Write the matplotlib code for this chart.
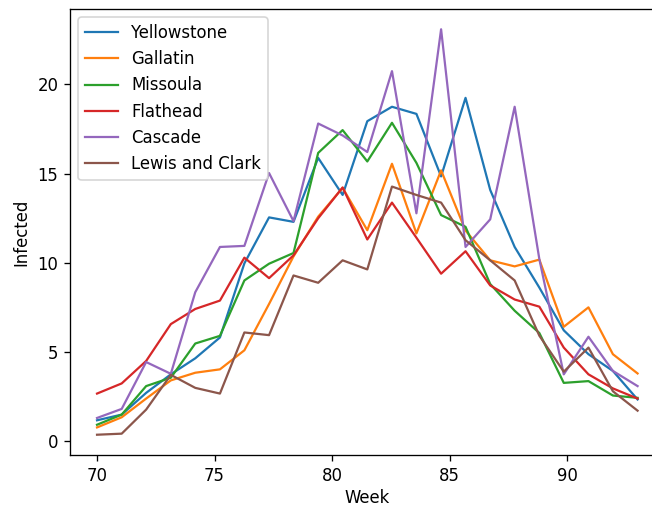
import matplotlib
matplotlib.use("Agg")
import matplotlib.pyplot as plt

weeks = [70.0, 71.05, 72.09, 73.14, 74.18, 75.23, 76.27, 77.32, 78.36, 79.41, 80.45, 81.5,
         82.55, 83.59, 84.64, 85.68, 86.73, 87.77, 88.82, 89.86, 90.91, 91.95, 93.0]

yellowstone = [1.15, 1.47, 2.69, 3.73, 4.63, 5.8, 9.96, 12.54, 12.29, 15.88, 13.8, 17.94,
               18.75, 18.35, 14.84, 19.25, 14.08, 10.88, 8.6, 6.2, 4.86, 3.92, 2.32]
gallatin = [0.75, 1.32, 2.37, 3.39, 3.82, 4.01, 5.08, 7.68, 10.35, 12.58, 14.2, 11.82,
            15.55, 11.64, 15.18, 11.8, 10.13, 9.79, 10.17, 6.4, 7.49, 4.86, 3.78]
missoula = [0.9, 1.47, 3.07, 3.54, 5.46, 5.89, 9.0, 9.94, 10.54, 16.16, 17.44, 15.68,
            17.85, 15.6, 12.67, 12.01, 8.8, 7.3, 6.05, 3.25, 3.35, 2.54, 2.41]
flathead = [2.65, 3.22, 4.48, 6.55, 7.4, 7.87, 10.28, 9.13, 10.41, 12.49, 14.22, 11.3,
            13.37, 11.4, 9.38, 10.64, 8.72, 7.93, 7.53, 5.23, 3.73, 2.94, 2.37]
cascade = [1.28, 1.79, 4.42, 3.76, 8.34, 10.88, 10.94, 15.03, 12.33, 17.81, 17.14, 16.21,
           20.75, 12.77, 23.1, 10.88, 12.43, 18.75, 10.2, 3.73, 5.84, 3.92, 3.07]
lewis_clark = [0.34, 0.4, 1.75, 3.7, 2.97, 2.65, 6.08, 5.93, 9.28, 8.87, 10.13, 9.62,
               14.27, 13.8, 13.37, 11.26, 10.13, 9.0, 5.9, 3.88, 5.23, 2.78, 1.69]

series = [("Yellowstone", yellowstone), ("Gallatin", gallatin), ("Missoula", missoula),
          ("Flathead", flathead), ("Cascade", cascade), ("Lewis and Clark", lewis_clark)]

DPI = 119
fig = plt.figure(figsize=(652 / DPI, 506 / DPI), dpi=DPI)
ax = fig.add_axes([70 / 652, 51 / 506, 594.6 / 652, 446 / 506])
for name, vals in series:
    ax.plot(weeks, vals, label=name, linewidth=1.35)
ax.set_xlabel("Week", labelpad=2.5)
ax.set_ylabel("Infected")
ax.set_xticks([70, 75, 80, 85, 90])
ax.set_yticks([0, 5, 10, 15, 20])
ax.legend(loc="upper left")
fig.savefig("out.png", dpi=DPI)
